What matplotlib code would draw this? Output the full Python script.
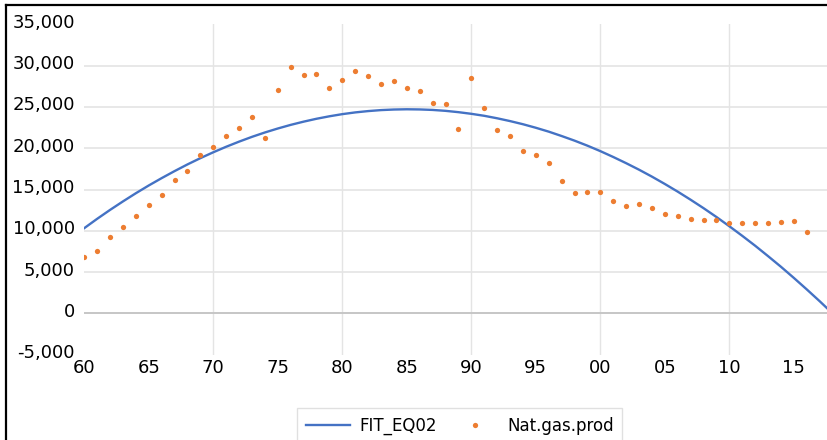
import numpy as np
import matplotlib
matplotlib.use("Agg")
import matplotlib.pyplot as plt
import matplotlib.transforms as mtransforms
from matplotlib.lines import Line2D
from matplotlib.ticker import FixedLocator, FixedFormatter, FuncFormatter

plt.rcParams["font.family"] = ["DejaVu Sans"]

# natural gas production, 1960-2016
prod_years = list(range(1960, 2017))
gas_prod = [
    6850, 7550, 9200, 10500, 11800, 13100, 14350, 16150, 17300, 19150,
    20100, 21450, 22400, 23750, 21300, 27100, 29900, 28850, 29050, 27250,
    28250, 29350, 28750, 27800, 28150, 27300, 26900, 25450, 25300, 22300,
    28450, 24900, 22250, 21450, 19700, 19150, 18250, 16050, 14550, 14700,
    14700, 13600, 13000, 13200, 12750, 12000, 11800, 11400, 11250, 11250,
    10950, 10950, 11000, 10900, 11100, 11150, 9900,
]

# quadratic fit curve, 1960-2018
fit_years = list(range(1960, 2019))
fit_eq02 = [
    10320, 11450, 12530, 13560, 14550, 15490, 16380, 17230, 18040, 18800,
    19510, 20180, 20800, 21380, 21910, 22390, 22830, 23220, 23570, 23870,
    24130, 24340, 24500, 24620, 24690, 24720, 24700, 24640, 24530, 24370,
    24170, 23930, 23630, 23290, 22910, 22480, 22010, 21480, 20920, 20310,
    19650, 18940, 18190, 17400, 16560, 15670, 14740, 13760, 12740, 11670,
    10550, 9390, 8190, 6930, 5640, 4290, 2900, 1470, -10,
]

tick_years = [1960, 1965, 1970, 1975, 1980, 1985, 1990, 1995, 2000, 2005, 2010, 2015]
tick_labels = ["60", "65", "70", "75", "80", "85", "90", "95", "00", "05", "10", "15"]

fig = plt.figure(figsize=(8.27, 4.4), dpi=100)
ax = fig.add_axes([0.1019, 0.1941, 0.8981, 0.7504])

# gridlines
for v in range(5000, 35000, 5000):
    ax.axhline(v, color="#e4e4e4", lw=1.2, zorder=0)
for yr in range(1970, 2011, 10):
    ax.axvline(yr, color="#e4e4e4", lw=1.0, zorder=0)
ax.axhline(0, color="#c6c6c6", lw=1.4, zorder=0)

ax.plot(fit_years, fit_eq02, color="#4472C4", lw=1.7, label="FIT_EQ02", zorder=2)
ax.plot(prod_years, gas_prod, ls="none", marker="o", ms=3.8, mew=0,
        color="#ED7D31", label="Nat.gas.prod", zorder=3)

ax.set_xlim(1960, 2017.57)
ax.set_ylim(-5000, 35000)
ax.set_yticks(range(-5000, 35001, 5000))
ax.yaxis.set_major_formatter(FuncFormatter(lambda v, p: f"{int(v):,}"))
ax.xaxis.set_major_locator(FixedLocator(tick_years))
ax.xaxis.set_major_formatter(FixedFormatter(tick_labels))
ax.tick_params(axis="y", length=0, pad=6.8, labelsize=13)
ax.tick_params(axis="x", length=0, pad=3.5, labelsize=13)
for s in ax.spines.values():
    s.set_visible(False)

# nudge y labels up a little
shift = mtransforms.ScaledTranslation(0, 3.5 / 100, fig.dpi_scale_trans)
for lbl in ax.get_yticklabels():
    lbl.set_transform(lbl.get_transform() + shift)

leg = fig.legend(loc="upper center", bbox_to_anchor=(0.556, 0.072), ncol=2,
                 fontsize=12, frameon=True, fancybox=False, edgecolor="#d9d9d9",
                 handlelength=2.64, handletextpad=0.6, columnspacing=0.95,
                 borderpad=0.5, borderaxespad=0, markerscale=1.0)
leg.get_frame().set_linewidth(1.0)

# outer frame (left and top edges)
fig.add_artist(Line2D([5.5 / 827, 5.5 / 827], [0, 1 - 5.5 / 440], color="black",
                      lw=1.6, transform=fig.transFigure))
fig.add_artist(Line2D([5.5 / 827, 1], [1 - 5.5 / 440, 1 - 5.5 / 440], color="black",
                      lw=1.6, transform=fig.transFigure))

fig.savefig("out.png", dpi=100)
